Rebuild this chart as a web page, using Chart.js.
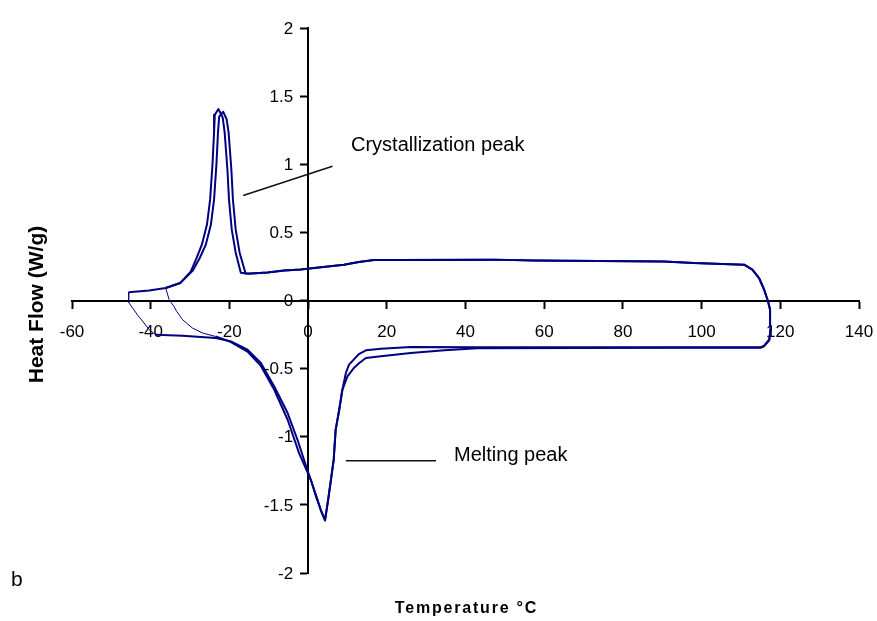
<!DOCTYPE html>
<html>
<head>
<meta charset="utf-8">
<title>DSC heat flow</title>
<script src="https://cdn.jsdelivr.net/npm/chart.js@4.4.1/dist/chart.umd.min.js"></script>
<style>
  html, body { margin: 0; padding: 0; background: #fff; }
  #wrap { position: relative; width: 877px; height: 621px; }
</style>
</head>
<body>
<div id="wrap"><canvas id="dscChart"></canvas></div>
<script>
// Axis ticks: temperature (°C) and heat flow (W/g)
const tempTicks = [-60, -40, -20, 0, 20, 40, 60, 80, 100, 120, 140];
const flowTicks = [-2, -1.5, -1, -0.5, 0, 0.5, 1, 1.5, 2];

// First cycle (cooled down to about -45 °C): heating run, then cooling run
const cycle1Temp = [-38.7, -31.9, -23.5, -19.6, -15.4, -12.0, -8.6, -5.2, -2.7, -0.2, 2.4, 3.2, 4.3,
  5.1, 5.8, 6.5, 7.0, 7.9, 8.7, 9.6, 10.4, 11.7, 13.0, 14.7, 18.5, 26.1, 43.0, 94.7, 115.0,
  115.9, 117.2, 117.6, 117.4, 116.9, 115.9, 114.6, 112.9, 110.8, 98.0, 90.4, 57.4, 47.2, 22.8,
  16.7, 12.9, 9.1, 2.7, -1.9, -6.1, -10.3, -15.4, -17.1, -18.4, -19.4, -20.1, -20.5, -21.2,
  -21.7, -22.8, -23.7, -23.9, -24.3, -24.9, -25.7, -27.0, -28.3, -29.8, -32.5, -36.2, -40.4, -45.6];
const cycle1Flow = [-0.251, -0.258, -0.275, -0.300, -0.361, -0.459, -0.631, -0.826, -1.022, -1.242, -1.462, -1.536, -1.615,
  -1.462, -1.316, -1.170, -0.950, -0.804, -0.657, -0.532, -0.471, -0.430, -0.391, -0.366, -0.354, -0.341, -0.344, -0.344, -0.344,
  -0.332, -0.288, -0.190, -0.068, -0.007, 0.079, 0.165, 0.226, 0.263, 0.275, 0.287, 0.294, 0.300, 0.297,
  0.297, 0.283, 0.263, 0.243, 0.228, 0.221, 0.206, 0.197, 0.204, 0.351, 0.520, 0.740, 0.960, 1.232,
  1.342, 1.406, 1.364, 1.232, 0.997, 0.740, 0.557, 0.410, 0.314, 0.214, 0.128, 0.092, 0.074, 0.061];

// Quick turn from the end of the first cooling run into heating
const turn1Temp = [-45.6, -45.6, -44.6, -43.4, -41.7, -40.4, -38.7];
const turn1Flow = [0.061, -0.014, -0.055, -0.104, -0.165, -0.214, -0.251];

// Second cycle (cooled down to about -36 °C)
const cycle2Temp = [-23.5, -19.6, -15.4, -12.0, -8.6, -5.2, -2.3, 0.7, 2.0, 3.2, 4.3,
  5.1, 5.8, 6.5, 7.0, 7.9, 8.7, 10.0, 11.7, 13.0, 14.7, 18.5, 26.1, 34.6, 43.0, 94.7, 115.0,
  115.9, 117.2, 117.6, 117.4, 116.9, 115.9, 114.6, 112.9, 110.8, 98.0, 90.4, 57.4, 47.2, 22.8,
  16.7, 12.9, 9.1, 2.7, -1.9, -6.1, -10.3, -14.6, -15.9, -17.4, -18.4, -19.1, -19.5, -20.2,
  -20.7, -21.6, -22.6, -22.9, -23.3, -23.9, -24.7, -26.0, -27.5, -29.3, -32.5, -36.2];
const cycle2Flow = [-0.264, -0.305, -0.375, -0.480, -0.655, -0.875, -1.120, -1.316, -1.438, -1.536, -1.610,
  -1.462, -1.316, -1.170, -0.950, -0.804, -0.657, -0.557, -0.493, -0.459, -0.422, -0.410, -0.385, -0.366, -0.350, -0.347, -0.347,
  -0.334, -0.290, -0.190, -0.068, -0.007, 0.079, 0.165, 0.226, 0.263, 0.275, 0.287, 0.294, 0.300, 0.297,
  0.297, 0.283, 0.263, 0.243, 0.228, 0.221, 0.206, 0.198, 0.200, 0.351, 0.520, 0.740, 0.960, 1.232,
  1.330, 1.385, 1.350, 1.232, 0.997, 0.740, 0.557, 0.410, 0.314, 0.220, 0.128, 0.092];

const turn2Temp = [-36.2, -35.3, -34.1, -33.4, -31.9, -29.4, -26.8, -23.5];
const turn2Flow = [0.092, 0.006, -0.043, -0.080, -0.141, -0.202, -0.239, -0.264];

// Peak callouts, anchored in data units
const callouts = [
  { text: 'Crystallization peak', at: [10.9, 1.095], from: [-16.5, 0.77], to: [6.2, 0.985] },
  { text: 'Melting peak', at: [37.1, -1.176], from: [9.6, -1.176], to: [32.5, -1.176] }
];

const LINE = '#000080';
const FONT = '"Liberation Sans", Arial, Helvetica, sans-serif';
const TICK_LEN = 7;

function toPoints(xs, ys) {
  return xs.map((x, i) => ({ x: x, y: ys[i] }));
}

function trace(xs, ys, width) {
  return {
    data: toPoints(xs, ys),
    showLine: true,
    borderColor: LINE,
    backgroundColor: LINE,
    borderWidth: width,
    borderJoinStyle: 'round',
    pointRadius: 0,
    tension: 0
  };
}

// y tick labels sit left of the crossing axis; Chart.js puts them right on it
// when the axis is placed by value, so they are drawn here instead.
// Also axis titles, panel letter and the peak callouts.
const labelsPlugin = {
  id: 'dscLabels',
  afterDraw(chart) {
    const ctx = chart.ctx;
    const area = chart.chartArea;
    const sx = chart.scales.x;
    const sy = chart.scales.y;
    const axisX = sx.getPixelForValue(0);

    ctx.save();
    ctx.fillStyle = '#000';

    ctx.font = '17px ' + FONT;
    ctx.textAlign = 'right';
    ctx.textBaseline = 'middle';
    flowTicks.forEach(v => {
      ctx.fillText(String(v), axisX - TICK_LEN - 8, sy.getPixelForValue(v) + 1);
    });

    // x title
    ctx.font = 'bold 16px ' + FONT;
    ctx.textBaseline = 'alphabetic';
    if ('letterSpacing' in ctx) ctx.letterSpacing = '1.8px';
    ctx.textAlign = 'center';
    ctx.fillText('Temperature °C', (area.left + area.right) / 2 + 1, 613);
    if ('letterSpacing' in ctx) ctx.letterSpacing = '0px';

    // y title
    ctx.save();
    ctx.translate(42.5, (area.top + area.bottom) / 2 + 4);
    ctx.rotate(-Math.PI / 2);
    ctx.font = 'bold 21px ' + FONT;
    ctx.fillText('Heat Flow (W/g)', 0, 0);
    ctx.restore();

    // panel letter
    ctx.font = '21px ' + FONT;
    ctx.textAlign = 'left';
    ctx.fillText('b', 11, 586);

    // callouts
    ctx.font = '20px ' + FONT;
    ctx.strokeStyle = '#111';
    ctx.lineWidth = 1.5;
    callouts.forEach(c => {
      ctx.beginPath();
      ctx.moveTo(sx.getPixelForValue(c.from[0]), sy.getPixelForValue(c.from[1]));
      ctx.lineTo(sx.getPixelForValue(c.to[0]), sy.getPixelForValue(c.to[1]));
      ctx.stroke();
      ctx.fillText(c.text, sx.getPixelForValue(c.at[0]), sy.getPixelForValue(c.at[1]));
    });
    ctx.restore();
  }
};

const axisGrid = {
  display: true,
  drawOnChartArea: false,
  drawTicks: true,
  tickLength: TICK_LEN,
  tickWidth: 2,
  tickColor: '#000'
};

new Chart(document.getElementById('dscChart'), {
  type: 'scatter',
  data: {
    datasets: [
      trace(cycle1Temp, cycle1Flow, 2),
      trace(cycle2Temp, cycle2Flow, 2),
      trace(turn1Temp, turn1Flow, 1),
      trace(turn2Temp, turn2Flow, 1)
    ]
  },
  options: {
    responsive: true,
    maintainAspectRatio: false,
    animation: false,
    layout: { padding: { left: 72, right: 18, top: 28, bottom: 48 } },
    plugins: {
      legend: { display: false },
      tooltip: { enabled: false }
    },
    scales: {
      x: {
        type: 'linear',
        position: { y: 0 },
        min: -60,
        max: 140,
        afterBuildTicks: axis => { axis.ticks = tempTicks.map(v => ({ value: v })); },
        grid: axisGrid,
        border: { display: true, color: '#000', width: 2 },
        ticks: {
          color: '#000',
          padding: 3,
          maxRotation: 0,
          autoSkip: false,
          // tall line box pushes the labels down without widening the side padding
          font: { family: FONT, size: 17, lineHeight: 2.6 },
          callback: v => String(v)
        }
      },
      y: {
        type: 'linear',
        position: { x: 0 },
        min: -2,
        max: 2,
        afterBuildTicks: axis => { axis.ticks = flowTicks.map(v => ({ value: v })); },
        grid: axisGrid,
        border: { display: true, color: '#000', width: 2 },
        ticks: { display: false }
      }
    }
  },
  plugins: [labelsPlugin]
});
</script>
</body>
</html>
